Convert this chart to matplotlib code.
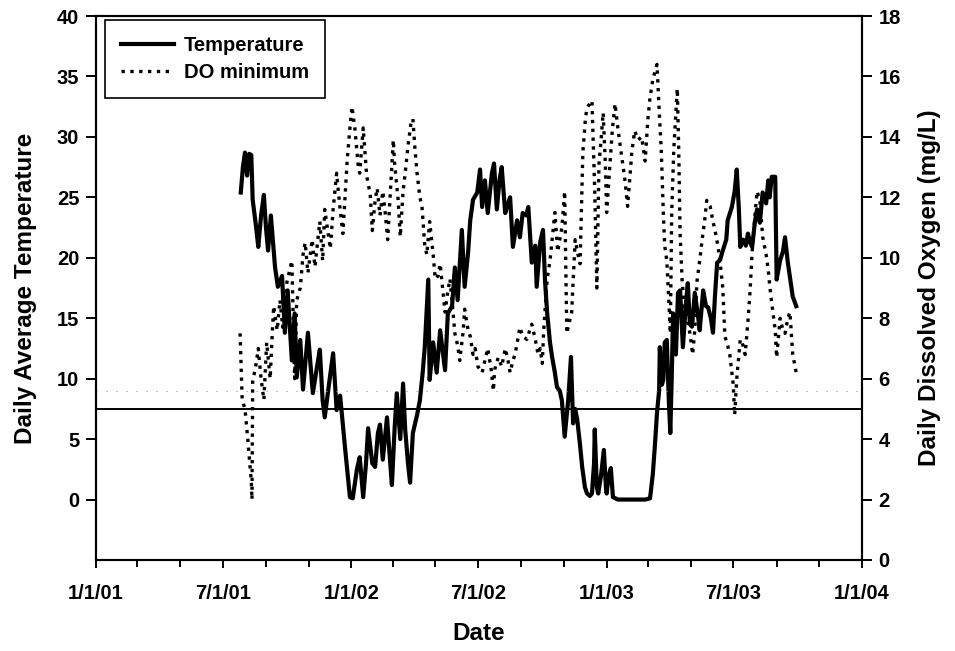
import matplotlib
matplotlib.use('Agg')
import matplotlib.pyplot as plt
import matplotlib.dates as mdates
from matplotlib.ticker import FuncFormatter
import pandas as pd

plt.rcParams['font.family'] = ['Liberation Sans', 'DejaVu Sans']
plt.rcParams['font.weight'] = 'bold'

start = pd.Timestamp('2001-01-01')

# daily average water temperature, days counted from 1/1/01
temp_day = [207, 210, 213, 216, 219, 222, 224, 229, 232, 236,
            240, 243, 246, 250, 256, 260, 266, 270, 274, 280,
            284, 287, 292, 296, 303, 310, 316, 320, 324, 327,
            333, 339, 344, 349, 356, 360, 363, 367, 373, 377,
            382, 386, 389, 395, 399, 403, 406, 410, 416, 420,
            423, 427, 430, 435, 439, 442, 446, 449, 453, 459,
            463, 467, 470, 475, 477, 482, 487, 492, 499, 503,
            509, 513, 517, 523, 527, 532, 535, 539, 545, 549,
            552, 556, 560, 566, 569, 573, 577, 580, 585, 589,
            592, 596, 602, 606, 610, 615, 618, 623, 628, 630,
            635, 639, 642, 645, 649, 652, 656, 659, 663, 666,
            670, 675, 679, 682, 685, 688, 692, 695, 699, 702,
            706, 709, 712, 713, 716, 718, 722, 726, 729, 730,
            733, 736, 739, 746, 756, 770, 785, 792, 796, 799,
            802, 805, 806, 809, 811, 813, 816, 819, 821, 823,
            825, 829, 832, 835, 838, 839, 843, 846, 849, 852,
            856, 861, 863, 868, 872, 875, 879, 882, 885, 888,
            892, 896, 901, 903, 909, 913, 916, 919, 921, 925,
            929, 932, 935, 938, 942, 945, 949, 953, 958, 961,
            963, 966, 971, 973, 978, 982, 985, 989, 993, 996,
            1001]
temp_c = [25.4, 27.5, 28.7, 26.8, 28.6, 28.5, 24.8, 22.5, 20.9, 23.5,
          25.2, 22.5, 20.6, 23.5, 19.2, 17.6, 18.5, 13.8, 17.3, 11.5,
          15.4, 10.1, 13.2, 9.1, 13.8, 8.8, 11.0, 12.4, 8.2, 6.8,
          9.5, 12.1, 7.4, 8.6, 4.3, 2.0, 0.2, 0.1, 2.5, 3.5,
          0.2, 3.0, 5.9, 3.0, 2.7, 5.5, 6.2, 3.3, 6.8, 3.5,
          1.2, 6.0, 8.8, 5.0, 9.6, 5.8, 3.0, 1.4, 5.5, 7.0,
          8.2, 10.5, 12.6, 18.2, 9.9, 13.0, 10.5, 14.0, 10.7, 15.4,
          16.0, 19.2, 16.5, 22.3, 17.6, 20.5, 23.1, 24.8, 25.4, 27.3,
          24.2, 26.4, 23.7, 27.0, 27.8, 24.0, 26.5, 27.5, 23.7, 24.5,
          25.0, 20.9, 23.1, 21.7, 23.7, 23.5, 24.2, 19.6, 21.0, 17.6,
          21.3, 22.3, 18.0, 15.4, 13.0, 11.8, 10.5, 9.3, 9.0, 8.2,
          5.2, 8.2, 11.8, 6.3, 7.5, 6.6, 4.5, 2.7, 1.0, 0.5,
          0.3, 0.5, 3.0, 5.8, 1.0, 0.5, 2.0, 4.1, 1.0, 0.5,
          2.0, 2.6, 0.2, 0.0, 0.0, 0.0, 0.0, 0.1, 2.1, 4.5,
          7.2, 9.0, 12.6, 9.5, 9.9, 13.0, 13.2, 8.0, 5.5, 10.0,
          15.4, 12.0, 17.1, 17.3, 13.8, 12.6, 16.0, 17.9, 14.5, 14.3,
          17.1, 15.0, 14.0, 17.3, 16.0, 15.9, 15.0, 13.8, 17.0, 19.6,
          19.8, 20.6, 21.5, 23.1, 24.2, 25.5, 27.3, 24.0, 20.9, 21.5,
          21.0, 22.0, 21.3, 20.9, 23.0, 24.0, 22.9, 25.4, 24.5, 26.4,
          25.0, 26.7, 26.7, 18.2, 19.8, 20.5, 21.7, 19.6, 18.0, 16.8,
          16.0]

# daily minimum dissolved oxygen (mg/L)
do_day = [206, 209, 213, 217, 222, 223, 224, 229, 232, 236,
          240, 244, 249, 252, 254, 259, 263, 267, 273, 277,
          280, 284, 287, 292, 296, 299, 303, 309, 313, 320,
          324, 327, 335, 339, 344, 349, 353, 359, 363, 366,
          370, 375, 377, 382, 387, 392, 395, 399, 402, 406,
          410, 413, 417, 422, 425, 427, 432, 435, 439, 442,
          446, 450, 453, 456, 459, 463, 466, 470, 473, 477,
          482, 485, 489, 492, 496, 499, 503, 506, 510, 513,
          517, 520, 525, 527, 532, 535, 539, 542, 546, 552,
          556, 560, 565, 568, 570, 575, 580, 585, 589, 592,
          596, 599, 603, 606, 610, 616, 620, 623, 628, 632,
          635, 638, 640, 645, 649, 652, 656, 660, 663, 666,
          670, 673, 678, 680, 685, 689, 692, 696, 700, 703,
          706, 709, 713, 716, 719, 722, 725, 728, 730, 735,
          738, 742, 746, 750, 756, 760, 763, 766, 770, 775,
          780, 785, 789, 792, 796, 802, 805, 808, 811, 813,
          816, 818, 821, 823, 826, 831, 833, 835, 838, 841,
          845, 849, 853, 856, 859, 863, 866, 871, 873, 878,
          882, 885, 889, 892, 896, 899, 903, 906, 911, 913,
          916, 921, 925, 928, 932, 935, 938, 942, 945, 949,
          953, 958, 961, 963, 966, 971, 973, 978, 982, 985,
          989, 992, 996, 1001]
do_min = [7.5, 5.3, 5.0, 4.0, 2.6, 2.0, 5.9, 6.5, 7.0, 6.0,
          5.3, 7.2, 6.0, 7.5, 8.4, 7.6, 8.6, 7.7, 9.2, 9.6,
          9.9, 6.0, 8.6, 9.0, 10.1, 10.5, 9.5, 10.6, 9.7, 11.2,
          9.9, 11.6, 10.3, 11.6, 12.8, 11.6, 10.8, 13.2, 14.3, 15.0,
          14.3, 13.0, 12.8, 14.3, 12.7, 12.1, 10.9, 11.9, 12.3, 11.4,
          12.2, 11.6, 10.6, 12.7, 13.9, 13.1, 11.9, 10.7, 12.2, 12.8,
          13.7, 14.4, 14.6, 13.6, 12.8, 12.0, 11.7, 10.4, 10.1, 11.2,
          10.1, 9.3, 9.4, 9.8, 8.9, 8.2, 8.9, 9.3, 8.3, 7.5,
          7.1, 6.6, 7.6, 8.3, 7.6, 7.4, 6.8, 7.0, 6.4, 6.2,
          6.6, 7.0, 6.3, 5.6, 6.3, 6.7, 6.4, 7.0, 6.6, 6.2,
          6.6, 6.8, 7.3, 7.7, 7.4, 7.3, 7.6, 7.8, 7.3, 6.8,
          7.0, 6.5, 7.6, 9.3, 9.9, 10.6, 11.5, 10.2, 10.6, 11.0,
          12.2, 7.5, 8.0, 8.2, 10.6, 10.1, 9.8, 13.5, 14.7, 15.0,
          15.1, 15.2, 12.2, 9.0, 13.1, 13.9, 14.8, 13.2, 11.5, 13.2,
          14.2, 15.1, 14.3, 13.6, 12.6, 11.7, 12.6, 13.5, 14.2, 13.9,
          14.0, 13.2, 14.6, 15.3, 15.9, 16.4, 14.9, 13.6, 11.5, 10.4,
          9.9, 9.0, 7.5, 11.5, 13.6, 15.6, 13.6, 10.8, 9.2, 8.4,
          8.0, 7.5, 6.8, 7.6, 9.2, 9.9, 10.5, 11.4, 11.9, 11.7,
          11.2, 10.9, 10.4, 9.9, 9.0, 7.4, 7.1, 6.8, 5.8, 4.8,
          6.0, 7.3, 7.1, 6.8, 7.9, 8.9, 10.2, 11.4, 12.2, 11.9,
          10.7, 10.1, 9.6, 9.1, 8.5, 7.6, 6.7, 8.0, 7.6, 7.5,
          8.0, 8.2, 6.8, 6.2]

do_standard = 5.0   # DO criterion line (mg/L)
do_guide = 5.6

temp_dates = start + pd.to_timedelta(temp_day, unit='D')
do_dates = start + pd.to_timedelta(do_day, unit='D')

fig = plt.figure(figsize=(9.55, 6.51), dpi=100)
ax = fig.add_axes([0.1005, 0.1398, 0.8021, 0.8356])
ax2 = ax.twinx()

l1, = ax.plot(temp_dates, temp_c, color='black', lw=3.0, label='Temperature')
l2, = ax2.plot(do_dates, do_min, color='black', lw=2.4, ls=':', label='DO minimum')
ax2.axhline(do_standard, color='black', lw=1.4)
ax2.axhline(do_guide, color='0.6', lw=0.8, ls=(0, (1, 8)))

ax.set_xlim(pd.Timestamp('2001-01-01'), pd.Timestamp('2004-01-01'))
ax.set_ylim(-5, 40)
ax.set_yticks(range(0, 41, 5))
ax2.set_ylim(0, 18)
ax2.set_yticks(range(0, 19, 2))

ax.xaxis.set_major_locator(mdates.MonthLocator(bymonth=[1, 7]))
ax.xaxis.set_minor_locator(mdates.MonthLocator(bymonth=[3, 5, 9, 11]))


def date_label(v, pos):
    d = mdates.num2date(v)
    return '%d/%d/%s' % (d.month, d.day, d.strftime('%y'))


ax.xaxis.set_major_formatter(FuncFormatter(date_label))

for a in (ax, ax2):
    for s in a.spines.values():
        s.set_linewidth(1.5)
ax.tick_params(axis='y', direction='out', length=7, width=1.4, labelsize=14.5, pad=5)
ax.tick_params(axis='x', which='major', direction='out', length=6, width=1.4, labelsize=14.5, pad=11)
ax.tick_params(axis='x', which='minor', direction='out', length=5, width=1.4)
ax2.tick_params(axis='y', direction='out', length=7, width=1.4, labelsize=14.5, pad=5)

ax.set_xlabel('Date', fontsize=17.5, fontweight='bold', labelpad=14)
ax.set_ylabel('Daily Average Temperature', fontsize=17.5, fontweight='bold', labelpad=14)
ax2.set_ylabel('Daily Dissolved Oxygen (mg/L)', fontsize=17.5, fontweight='bold', labelpad=12)

leg = ax2.legend(handles=[l1, l2], loc='upper left', bbox_to_anchor=(0.012, 0.993),
                 borderaxespad=0, fancybox=False, framealpha=1, edgecolor='black',
                 fontsize=14.5, handlelength=2.6, handletextpad=0.5,
                 labelspacing=0.4, borderpad=0.8)
leg.get_frame().set_linewidth(1.2)

fig.savefig('out.png', dpi=100)
